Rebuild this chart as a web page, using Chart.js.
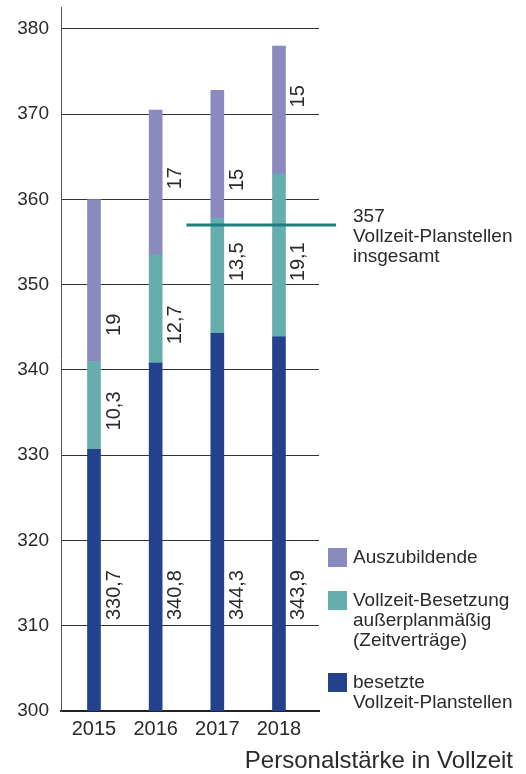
<!DOCTYPE html>
<html lang="de">
<head>
<meta charset="utf-8">
<title>Personalstärke in Vollzeit</title>
<script src="https://cdn.jsdelivr.net/npm/chart.js@4.4.0/dist/chart.umd.min.js"></script>
<style>
  html, body { margin: 0; padding: 0; background: #fff; }
  #wrap { width: 526px; height: 774px; }
</style>
</head>
<body>
<div id="wrap"><canvas id="personalChart" width="526" height="774"></canvas></div>
<script>
const years = ['2015', '2016', '2017', '2018'];
const planstellen = [330.7, 340.8, 344.3, 343.9];
const zeitvertraege = [10.3, 12.7, 13.5, 19.1];
const auszubildende = [19, 17, 15, 15];
const planTotal = 357;
const yTicks = [300, 310, 320, 330, 340, 350, 360, 370, 380];

const seriesNames = [
  'besetzte\nVollzeit-Planstellen',
  'Vollzeit-Besetzung\naußerplanmäßig\n(Zeitverträge)',
  'Auszubildende'
];
const seriesColors = ['#24418e', '#66adad', '#8a8abf'];

// centre of each rotated value label, in axis units
const labelPos = [
  [313.6, 313.6, 313.6, 313.6],
  [335.2, 345.3, 352.7, 352.7],
  [345.3, 362.5, 362.3, 372.1]
];

const FONT = '"Liberation Sans", Arial, sans-serif';
const TEXT = '#2a2a2a';
Chart.defaults.font.family = FONT;
Chart.defaults.color = TEXT;

const fmt = v => v.toLocaleString('de-DE');

const valueLabels = {
  id: 'valueLabels',
  afterDatasetsDraw(chart) {
    const {ctx, scales: {x, y}} = chart;
    ctx.save();
    ctx.font = '20px ' + FONT;
    ctx.fillStyle = TEXT;
    ctx.textAlign = 'center';
    ctx.textBaseline = 'middle';
    chart.data.datasets.forEach((ds, d) => {
      ds.data.forEach((pt, i) => {
        ctx.save();
        ctx.translate(x.getPixelForValue(pt.x) + 20, y.getPixelForValue(labelPos[d][i]));
        ctx.rotate(-Math.PI / 2);
        ctx.fillText(fmt(pt.y), 0, 0);
        ctx.restore();
      });
    });
    ctx.restore();
  }
};

// target line for the total number of posts, plus its note
const planLine = {
  id: 'planLine',
  afterDatasetsDraw(chart) {
    const {ctx, chartArea, scales: {x, y}} = chart;
    const py = y.getPixelForValue(planTotal);
    ctx.save();
    ctx.strokeStyle = '#1e7e7e';
    ctx.lineWidth = 3;
    ctx.beginPath();
    ctx.moveTo(x.getPixelForValue(1.5), py);
    ctx.lineTo(chartArea.right + 17, py);
    ctx.stroke();

    ctx.fillStyle = TEXT;
    ctx.font = '19px ' + FONT;
    ctx.textAlign = 'left';
    ctx.textBaseline = 'alphabetic';
    [String(planTotal), 'Vollzeit-Planstellen', 'insgesamt'].forEach((t, k) => {
      ctx.fillText(t, 353, 222 + k * 20);
    });
    ctx.restore();
  }
};

const sideLegend = {
  id: 'sideLegend',
  afterDraw(chart) {
    const {ctx} = chart;
    const tops = [548, 591, 673];
    ctx.save();
    ctx.font = '19px ' + FONT;
    ctx.textAlign = 'left';
    ctx.textBaseline = 'middle';
    [2, 1, 0].forEach((d, k) => {
      const ds = chart.data.datasets[d];
      ctx.fillStyle = ds.backgroundColor;
      ctx.fillRect(328, tops[k], 19, 19);
      ctx.fillStyle = TEXT;
      ds.label.split('\n').forEach((line, n) => {
        ctx.fillText(line, 353, tops[k] + 10 + n * 20);
      });
    });

    ctx.font = '24px ' + FONT;
    ctx.textAlign = 'right';
    ctx.fillText('Personalstärke in Vollzeit', 513, 761);
    ctx.restore();
  }
};

const toPoints = arr => arr.map((v, i) => ({x: i, y: v}));

new Chart(document.getElementById('personalChart'), {
  type: 'bar',
  data: {
    datasets: [planstellen, zeitvertraege, auszubildende].map((arr, d) => ({
      label: seriesNames[d],
      data: toPoints(arr),
      backgroundColor: seriesColors[d],
      barThickness: 13,
      borderWidth: 0
    }))
  },
  options: {
    responsive: false,
    animation: false,
    layout: {autoPadding: false, padding: {top: 7, right: 207, bottom: 0, left: 0}},
    plugins: {legend: {display: false}, tooltip: {enabled: false}},
    scales: {
      x: {
        type: 'linear',
        stacked: true,
        offset: false,
        min: -0.535,
        max: 3.649,
        afterBuildTicks: s => { s.ticks = years.map((_, i) => ({value: i})); },
        afterFit: s => { s.height = 63; s.paddingLeft = 0; s.paddingRight = 0; },
        grid: {display: true, offset: false, drawOnChartArea: false, drawTicks: false},
        border: {display: true, color: '#222', width: 2},
        ticks: {
          callback: v => years[v] ?? '',
          font: {size: 20},
          color: TEXT,
          padding: 6,
          maxRotation: 0
        }
      },
      y: {
        stacked: true,
        min: 300,
        max: 382.58,
        afterBuildTicks: s => { s.ticks = yTicks.map(v => ({value: v})); },
        afterFit: s => { s.width = 61; s.paddingTop = 0; s.paddingBottom = 0; },
        grid: {color: '#333', lineWidth: 1, drawTicks: false},
        border: {display: true, color: '#555', width: 1},
        ticks: {font: {size: 19}, color: TEXT, padding: 12}
      }
    }
  },
  plugins: [valueLabels, planLine, sideLegend]
});
</script>
</body>
</html>
